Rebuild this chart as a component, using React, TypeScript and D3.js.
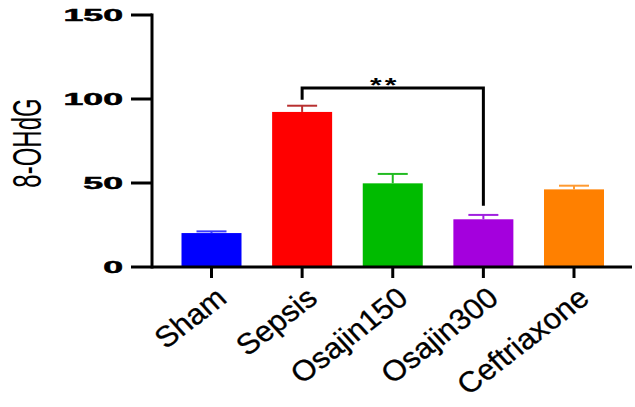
import React from "react";
import * as d3 from "d3";

const categories = ["Sham", "Sepsis", "Osajin150", "Osajin300", "Ceftriaxone"];
const means = [20.2, 92.3, 49.8, 28.4, 46.2];
const errors = [1.0, 3.7, 5.6, 2.6, 2.2];
const barColors = ["#0000ff", "#ff0000", "#00bb00", "#a400dd", "#ff8000"];
const capColors = ["#3a3aff", "#b83030", "#22bb22", "#a020e0", "#ff9a30"];
const yTicks = [0, 50, 100, 150];
const yLabel = "8-OHdG";
const sigPair = ["Sepsis", "Osajin300"];
const sigLabel = "**";

const W = 635;
const H = 407;
const FONT = "'Liberation Sans', Arial, Helvetica, sans-serif";

export default function App() {
  const y = d3.scaleLinear().domain([0, 150]).range([267, 15]);
  const x = d3.scalePoint<string>().domain(categories).range([211.5, 574]);
  const barW = 60;
  const capW = 30;
  const axisX = 152;
  const y0 = y(0);

  const bx1 = x(sigPair[0])!;
  const bx2 = x(sigPair[1])!;
  const bTop = y(106.5);
  const bLeftBottom = y(99.5);
  const bRightBottom = y(36.5);

  return (
    <svg
      width={W}
      height={H}
      style={{ position: "absolute", left: 0, top: 0, background: "#fff" }}
    >
      {categories.map((c, i) => (
        <rect
          key={c}
          x={x(c)! - barW / 2}
          y={y(means[i])}
          width={barW}
          height={y0 - y(means[i])}
          fill={barColors[i]}
        />
      ))}
      {categories.map((c, i) => (
        <g key={c + "e"} stroke={capColors[i]} strokeWidth={2}>
          <line x1={x(c)!} x2={x(c)!} y1={y(means[i])} y2={y(means[i] + errors[i])} />
          <line
            x1={x(c)! - capW / 2}
            x2={x(c)! + capW / 2}
            y1={y(means[i] + errors[i])}
            y2={y(means[i] + errors[i])}
          />
        </g>
      ))}
      <line x1={axisX} x2={axisX} y1={y(150) - 1.5} y2={y0 + 1.5} stroke="#000" strokeWidth={3} />
      {yTicks.map((t) => (
        <g key={t}>
          <line x1={131} x2={axisX} y1={y(t)} y2={y(t)} stroke="#000" strokeWidth={3} />
          <text
            transform={`translate(123,${y(t)}) scale(2.1,1)`}
            textAnchor="end"
            dominantBaseline="central"
            fontFamily={FONT}
            fontWeight="bold"
            fontSize={17}
            fill="#000"
            stroke="#000"
            strokeWidth={0.5}
          >
            {t}
          </text>
        </g>
      ))}
      <text
        transform={`translate(27,143) scale(1.7,1) rotate(-90)`}
        textAnchor="middle"
        dominantBaseline="central"
        fontFamily={FONT}
        fontSize={24}
        fill="#000"
      >
        {yLabel}
      </text>
      <line x1={axisX} x2={632} y1={y0} y2={y0} stroke="#000" strokeWidth={3} />
      {categories.map((c) => (
        <g key={c + "t"}>
          <line x1={x(c)!} x2={x(c)!} y1={y0} y2={278} stroke="#000" strokeWidth={3} />
          <text
            transform={`translate(${x(c)! + 17},301) scale(1.08,1) rotate(-40)`}
            textAnchor="end"
            fontFamily={FONT}
            fontSize={29}
            fill="#000"
            stroke="#000"
            strokeWidth={0.3}
          >
            {c}
          </text>
        </g>
      ))}
      <path
        d={`M${bx1},${bLeftBottom} V${bTop} H${bx2} V${bRightBottom}`}
        fill="none"
        stroke="#000"
        strokeWidth={3}
      />
      <text
        transform={`translate(${(bx1 + bx2) / 2 - 8},92) scale(1.5,1)`}
        textAnchor="middle"
        fontFamily={FONT}
        fontWeight="bold"
        fontSize={20}
        letterSpacing={2}
        fill="#000"
      >
        {sigLabel}
      </text>
    </svg>
  );
}
